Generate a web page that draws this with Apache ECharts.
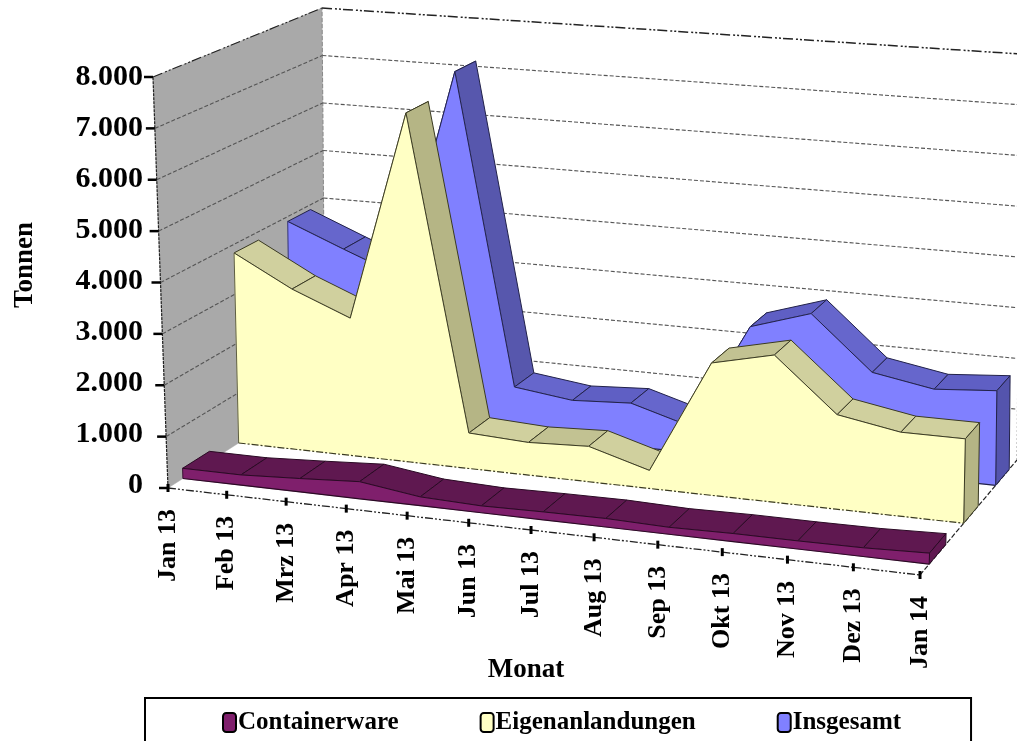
<!DOCTYPE html>
<html><head><meta charset="utf-8">
<style>html,body{margin:0;padding:0;background:#fff;overflow:hidden}#c{width:1017px;height:741px}</style>
<script src="https://cdn.jsdelivr.net/npm/echarts@6/dist/echarts.min.js"></script>
</head><body><div id="c"></div>
<script>
const categories = ['Jan 13','Feb 13','Mrz 13','Apr 13','Mai 13','Jun 13','Jul 13','Aug 13','Sep 13','Okt 13','Nov 13','Dez 13','Jan 14'];
const containerware = [200,200,260,330,170,130,150,160,130,150,150,160,200];
const eigenanlandungen = [3830,3210,2740,6920,700,640,690,350,2550,2820,1800,1590,1590];
const insgesamt = [3900,3430,2980,7250,950,800,865,525,2620,2990,1950,1740,1830];
const valueTicks = [0,1000,2000,3000,4000,5000,6000,7000,8000];

const FONT = '"Liberation Serif", serif';
// Corners of the drawn 3D box (screen space)
const BOX = {
  floor:{fl:[168,488],fr:[920,575],bl:[325,388],br:[1017,460]},
  top:{fl:[153,77],fr:[933,135],bl:[322,8],br:[1020,54]}
};
function lerp(a,b,t){return [a[0]+(b[0]-a[0])*t,a[1]+(b[1]-a[1])*t];}
function project(u,v,w){
  const uu = u-0.069*u*(1-u);
  const f=BOX.floor,t=BOX.top;
  const a=lerp(lerp(f.fl,f.fr,uu),lerp(f.bl,f.br,uu),w);
  const b=lerp(lerp(t.fl,t.fr,uu),lerp(t.bl,t.br,uu),w);
  return lerp(a,b,v);
}
function toBox(params,api,cat,val){
  const p=api.coord([cat,val]);const g=params.coordSys;
  return {u:(p[0]-g.x)/g.width,v:(g.y+g.height-p[1])/g.height};
}
function poly(points,fill,stroke,lw,dash){
  return {type:'polygon',shape:{points},style:{fill,stroke:stroke||fill,lineWidth:lw==null?0.6:lw,lineDash:dash||null}};
}
function line(points,stroke,lw,dash){
  return {type:'polyline',shape:{points},style:{fill:null,stroke,lineWidth:lw||1,lineDash:dash||null}};
}
function areaSeries(name,values,w0,w1,col){
  return {
    type:'custom',name,coordinateSystem:'cartesian2d',clip:false,silent:true,
    itemStyle:{color:col.front},
    encode:{x:0,y:1},
    data:values.map((v,i)=>[i,v]),
    renderItem(params,api){
      const i=api.value(0);
      const kids=[];
      const a=toBox(params,api,i,api.value(1));
      if(i<values.length-1){
        const b=toBox(params,api,i+1,values[i+1]);
        const fa=project(a.u,a.v,w0),fb=project(b.u,b.v,w0),ba=project(a.u,a.v,w1),bb=project(b.u,b.v,w1);
        const steep=Math.abs(values[i+1]-api.value(1))>3000;
        kids.push(poly([fa,fb,bb,ba],steep?col.steep:(values[i+1]>api.value(1)?col.rise:col.top),col.edge,1));
      } else {
        const fa=project(a.u,a.v,w0),ba=project(a.u,a.v,w1),ga=project(a.u,0,w0),gb=project(a.u,0,w1);
        kids.push(poly([fa,ba,gb,ga],col.cap,col.edge,1));
        // whole front face, painted over the facets behind it
        const boxes=values.map((v,k)=>toBox(params,api,k,v));
        const topEdge=boxes.map(p=>project(p.u,p.v,w0));
        const floorEdge=boxes.map(p=>project(p.u,0,w0));
        kids.push(poly(topEdge.concat(floorEdge.slice().reverse()),col.front,col.front,0.5));
        kids.push(line(topEdge,col.edge,1));
        kids.push(line(floorEdge,col.edge,1.2,col.dash));
        kids.push(line([topEdge[0],floorEdge[0]],col.edge,0.8));
        kids.push(line([fa,ga],col.edge,1));
      }
      return {type:'group',children:kids};
    }
  };
}
const wallSeries={
  type:'custom',name:'wall',coordinateSystem:'cartesian2d',clip:false,silent:true,
  data:valueTicks.map(v=>[0,v]),encode:{x:0,y:1},
  renderItem(params,api){
    const a=toBox(params,api,0,api.value(1));
    const kids=[];
    if(a.v===0){
      kids.push(poly([project(0,0,0),project(0,1,0),project(0,1,1),project(0,0,1)],'#a9a9a9','#a9a9a9',0.5));
      kids.push(line([project(0,0,1),project(0,1,1)],'#8a8a8a',1,[4,2]));
      kids.push(line([project(0,0,0),project(0,1,0)],'#222',1.2,[3,1]));
      kids.push(line([project(1,0,0),project(1,0,1)],'#222',1.2,[5,2]));
      kids.push(line([project(1,0,1),project(1,0.29,1)],'#888',1,[2,2]));
    }
    const top=a.v>=0.999;
    const col=top?'#222':'#555';
    const dash=top?[10,3,2,2,2,2]:[4,2];
    if(a.v>0){
      kids.push(line([project(0,a.v,0),project(0,a.v,1)],col,1.1,dash));
      kids.push(line([project(0,a.v,1),project(1,a.v,1)],col,top?1.5:1.1,dash));
    }
    const t=project(0,a.v,0);
    kids.push(line([[t[0]-9,t[1]],[t[0],t[1]]],'#000',2.5));
    return {type:'group',children:kids};
  }
};
const axisSeries={
  type:'custom',name:'axis',coordinateSystem:'cartesian2d',clip:false,silent:true,
  data:categories.map((c,i)=>[i,0]),encode:{x:0,y:1},
  renderItem(params,api){
    const i=api.value(0);
    const a=toBox(params,api,i,0);
    const p=project(a.u,0,0);
    const kids=[];
    if(i<categories.length-1){
      const b=toBox(params,api,i+1,0);
      kids.push(line([p,project(b.u,0,0)],'#222',1.3,[8,2,2,2,2,2]));
    }
    kids.push(line([[p[0],p[1]-4],[p[0],p[1]+4]],'#000',3));
    kids.push({type:'text',x:p[0],y:p[1]+21,rotation:Math.PI/2,
      style:{text:categories[i],font:'bold 26px '+FONT,fill:'#000',align:'right',verticalAlign:'middle'}});
    return {type:'group',children:kids};
  }
};
const colBlue={front:'#8080ff',top:'#6666cc',rise:'#5f5fc4',steep:'#5757ad',cap:'#5454ad',edge:'#22224a',dash:null};
const colYellow={front:'#ffffc4',top:'#d0d09e',rise:'#c2c292',steep:'#b5b585',cap:'#b5b585',edge:'#3a3a22',dash:[7,2,2,2]};
const colCont={front:'#7f1f6c',top:'#5f1850',rise:'#5f1850',steep:'#5f1850',cap:'#5f1850',edge:'#2a0a24',dash:null};

const chart=echarts.init(document.getElementById('c'),null,{renderer:'canvas'});
chart.setOption({
  animation:false,
  backgroundColor:'#fff',
  grid:{left:153,top:77,width:746,height:408,containLabel:false},
  xAxis:{type:'category',data:categories,boundaryGap:false,
    axisLine:{show:false},axisTick:{show:false},axisLabel:{show:false},splitLine:{show:false},
    name:'Monat',nameLocation:'middle',nameGap:172,
    nameTextStyle:{fontFamily:FONT,fontWeight:'bold',fontSize:27,color:'#000'}},
  yAxis:{type:'value',min:0,max:8000,interval:1000,
    axisLine:{show:false},axisTick:{show:false},splitLine:{show:false},
    axisLabel:{margin:10,fontFamily:FONT,fontWeight:'bold',fontSize:30,color:'#000',padding:[5,0,0,0],
      formatter:v=>String(v).replace(/\B(?=(\d{3})+$)/g,'.')},
    name:'Tonnen',nameLocation:'middle',nameGap:114,
    nameTextStyle:{fontFamily:FONT,fontWeight:'bold',fontSize:27,color:'#000',padding:[0,0,0,32]}},
  legend:{left:145,top:698,orient:'horizontal',data:['Containerware','Eigenanlandungen','Insgesamt'],
    padding:[12,70,40,77],itemGap:81,itemWidth:13,itemHeight:19,icon:'roundRect',
    borderColor:'#000',borderWidth:2,backgroundColor:'#fff',
    selectedMode:false,
    itemStyle:{borderColor:'#000',borderWidth:2},
    textStyle:{fontFamily:FONT,fontWeight:'bold',fontSize:25,color:'#000',padding:[1,0,0,-3]}},
  series:[
    wallSeries,
    areaSeries('Insgesamt',insgesamt,0.78,0.92,colBlue),
    areaSeries('Eigenanlandungen',eigenanlandungen,0.45,0.6,colYellow),
    areaSeries('Containerware',containerware,0.095,0.266,colCont),
    axisSeries
  ]
});
</script></body></html>
